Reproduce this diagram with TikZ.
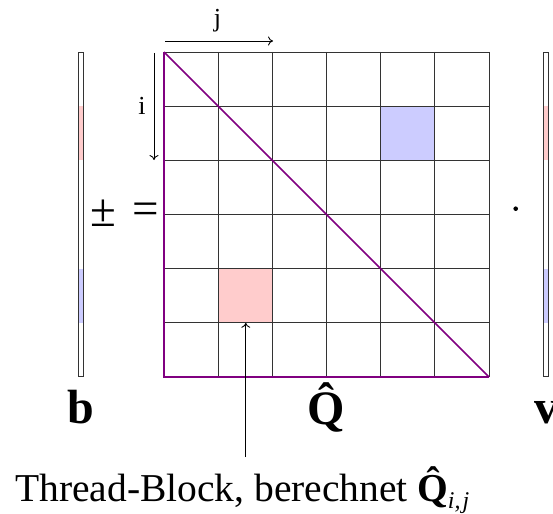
\documentclass[tikz,border=0pt]{standalone}
\usepackage{fontspec}
\setmainfont{Liberation Serif}
\usetikzlibrary{arrows.meta}
\definecolor{qpurple}{RGB}{128,0,128}
\definecolor{cellred}{RGB}{255,204,204}
\definecolor{cellblue}{RGB}{204,204,255}
\begin{document}
\begin{tikzpicture}[x=1pt,y=-1pt,
  gridline/.style={draw=black!80,line width=0.9pt},
  qline/.style={draw=qpurple,line width=1.5pt},
  vecbox/.style={draw=black!80,line width=0.9pt},
  arr/.style={draw=black,line width=0.9pt,-{To[length=5pt,width=9pt]}},
  biglabel/.style={font=\fontsize{48}{56}\selectfont\bfseries,inner sep=0pt,anchor=base},
  symlabel/.style={font=\fontsize{47}{56}\selectfont,inner sep=0pt,anchor=center},
  idxlabel/.style={font=\fontsize{26}{30}\selectfont,inner sep=0pt,anchor=base}]
\useasboundingbox (0,0) rectangle (553,513);
% cells of Q
\fill[cellred] (218.17,268.67) rectangle (272.33,322.83);
\fill[cellblue] (380.67,106.17) rectangle (434.83,160.33);
% vectors
\fill[cellred] (78,106.17) rectangle (83.7,160.33);
\fill[cellblue] (78,268.67) rectangle (83.7,322.83);
\draw[vecbox] (78,52) rectangle (83.7,376);
\fill[cellred] (543,106.17) rectangle (548.7,160.33);
\fill[cellblue] (543,268.67) rectangle (548.7,322.83);
\draw[vecbox] (543,52) rectangle (548.7,376);
% grid
\foreach \k in {1,...,6} \draw[gridline] ({164+\k*325/6},52) -- ({164+\k*325/6},377);
\foreach \k in {0,...,5} \draw[gridline] (164,{52+\k*325/6}) -- (489,{52+\k*325/6});
\draw[qline] (164,52) -- (164,377) -- (489,377);
\draw[qline] (164,52) -- (489,377);
% index arrows
\coordinate (jstart) at (165,41);
\coordinate (jend) at (273,41);
\draw[arr] (jstart) -- (jend);
\node[idxlabel] (jlab) at (217.5,27) {j};
\coordinate (istart) at (154,53);
\coordinate (iend) at (154,160);
\draw[arr] (istart) -- (iend);
\node[idxlabel] (ilab) at (142,115) {i};
% symbols
\node[symlabel] (pm) at (103.5,213.5) {±};
\node[symlabel] (eq) at (145.5,213.5) {=};
\fill (515.7,208.7) circle (2.3);
% labels
\node[biglabel] (b) at (80.5,423) {b};
\node[biglabel] (Q) at (326,424) {\^{Q}};
\node[biglabel] (v) at (546,423) {v};
% thread block
\node[font=\fontsize{39.5}{46}\selectfont,inner sep=0pt,anchor=base west] (txt) at (15,501)
  {Thread-Block, berechnet \textbf{\^{Q}}\kern-0.17em\raisebox{-0.2em}{\fontsize{24}{28}\selectfont\itshape i,\kern0.08em j}};
\coordinate (tstart) at (245.8,457);
\coordinate (redbot) at (245.8,322.8);
\draw[arr] (tstart) -- (redbot);
\end{tikzpicture}
\end{document}
